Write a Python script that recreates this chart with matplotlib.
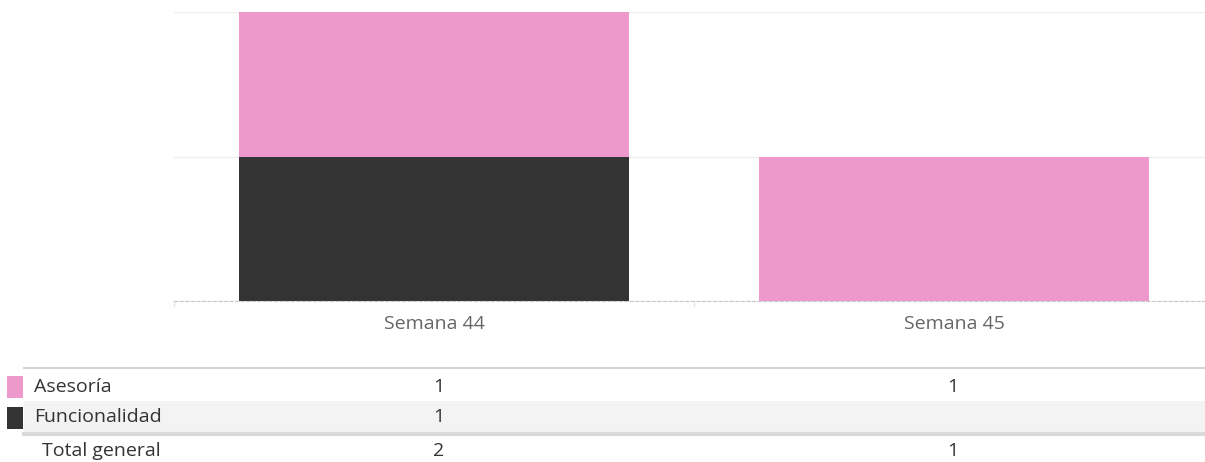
import numpy as np
import matplotlib
matplotlib.use('Agg')
import matplotlib.pyplot as plt
from matplotlib.patches import Rectangle

# --- data --- #
weeks = ['Semana 44', 'Semana 45']
categories = ['Asesoría', 'Funcionalidad']
funcionalidad = [1, 0]
asesoria = [1, 1]
colors = {'Asesoría': '#ed99cb', 'Funcionalidad': '#333333'}
total_label = 'Total general'

W, H = 1205, 462
fig = plt.figure(figsize=(W / 100, H / 100), dpi=100)
plt.rcParams['font.family'] = ['Open Sans', 'DejaVu Sans']
fs = 14


def px_axes(x0, y0, x1, y1):
    # pixel box (top-left origin) -> figure axes
    return fig.add_axes([x0 / W, 1 - y1 / H, (x1 - x0) / W, (y1 - y0) / H])


# --- bar chart --- #
ax = px_axes(174, 12, 1214, 301)
x = np.arange(len(weeks))
ax.bar(x, funcionalidad, width=0.75, color=colors['Funcionalidad'], zorder=3)
ax.bar(x, asesoria, width=0.75, bottom=funcionalidad, color=colors['Asesoría'], zorder=3)
ax.set_xlim(-0.5, len(weeks) - 0.5)
ax.set_ylim(0, 2)
ax.set_yticks([0, 1, 2])
ax.yaxis.grid(True, color='#eeeeee', lw=1, zorder=0)
ax.tick_params(axis='y', left=False, labelleft=False)
for s in ['top', 'right', 'left']:
    ax.spines[s].set_visible(False)
ax.spines['bottom'].set_color('#c8c8c8')
ax.spines['bottom'].set_linestyle((0, (3, 2)))
ax.spines['bottom'].set_zorder(4)
ax.set_xticks(x)
ax.set_xticklabels(weeks, fontsize=fs, color='#666666')
ax.tick_params(axis='x', length=0, pad=10)
# separators between week bands
for b in np.arange(-0.5, len(weeks) - 0.5):
    ax.plot([b, b], [0, -0.035], color='#e6e6e6', lw=1, clip_on=False)

# --- table below --- #
tb = px_axes(0, 362, W, H)
tb.set_xlim(0, W)
tb.set_ylim(H, 362)
tb.axis('off')

col_x = [439, 953]
rows = [(categories[0], asesoria), (categories[1], funcionalidad)]
row_top = [370, 401]
row_h = 31

tb.plot([24, W], [368, 368], color='#d4d4d4', lw=1.5)
tb.add_patch(Rectangle((24, 401), W - 24, 31, color='#f3f3f3', lw=0))
tb.plot([24, W], [434, 434], color='#d9d9d9', lw=3)

for (name, vals), top in zip(rows, row_top):
    cy = top + row_h / 2 + 1
    tb.add_patch(Rectangle((7, top + 6), 16, 22, color=colors[name], lw=0))
    tb.text(34, cy, name, fontsize=fs, color='#333333', va='center', ha='left')
    for cx, v in zip(col_x, vals):
        if v:
            tb.text(cx, cy, str(v), fontsize=fs, color='#333333', va='center', ha='center')

totals = [a + f for a, f in zip(asesoria, funcionalidad)]
tb.text(42, 451, total_label, fontsize=fs, color='#333333', va='center', ha='left')
for cx, v in zip(col_x, totals):
    tb.text(cx, 451, str(v), fontsize=fs, color='#333333', va='center', ha='center')

fig.savefig('out.png', dpi=100)
